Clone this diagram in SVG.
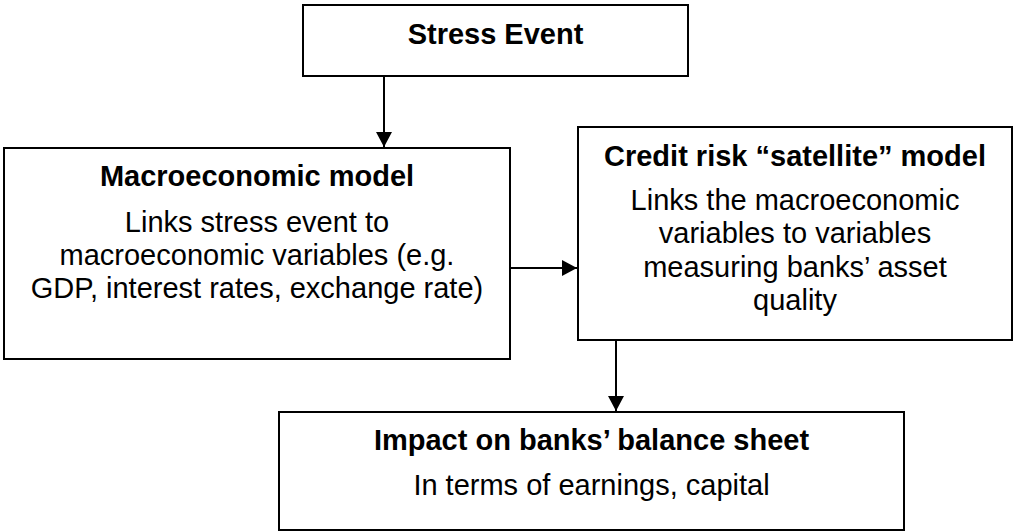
<svg xmlns="http://www.w3.org/2000/svg" width="1014" height="532" viewBox="0 0 1014 532">
<style>
.box{fill:#fff;stroke:#000;stroke-width:2}
.t{font-family:"Liberation Sans",Arial,sans-serif;font-size:29px;fill:#000;text-anchor:middle}
.b{font-weight:bold}
.c{stroke:#000;stroke-width:2;fill:none}
</style>
<defs>
<marker id="ah" markerUnits="userSpaceOnUse" markerWidth="16" markerHeight="16" refX="15" refY="8" orient="auto">
<path d="M0,0 L15,8 L0,16 Z" fill="#000"/>
</marker>
</defs>
<rect width="1014" height="532" fill="#fff"/>
<g id="connectors">
<line class="c" x1="384" y1="77" x2="384" y2="147" marker-end="url(#ah)"/>
<line class="c" x1="511" y1="268" x2="577" y2="268" marker-end="url(#ah)"/>
<line class="c" x1="616" y1="341" x2="616" y2="411" marker-end="url(#ah)"/>
</g>
<g id="stress">
<rect class="box" x="303" y="5" width="385" height="71"/>
<text class="t b" x="495.5" y="44">Stress Event</text>
</g>
<g id="macro">
<rect class="box" x="4" y="148" width="506" height="211"/>
<text class="t b" x="257" y="186">Macroeconomic model</text>
<text class="t" x="257" y="231.5">Links stress event to</text>
<text class="t" x="257" y="265">macroeconomic variables (e.g.</text>
<text class="t" x="257" y="298">GDP, interest rates, exchange rate)</text>
</g>
<g id="credit">
<rect class="box" x="578" y="127" width="434" height="213"/>
<text class="t b" x="795" y="166">Credit risk “satellite” model</text>
<text class="t" x="795" y="210">Links the macroeconomic</text>
<text class="t" x="795" y="243">variables to variables</text>
<text class="t" x="795" y="276.5">measuring banks’ asset</text>
<text class="t" x="795" y="309.5">quality</text>
</g>
<g id="impact">
<rect class="box" x="279" y="412" width="625" height="118"/>
<text class="t b" x="591.5" y="450">Impact on banks’ balance sheet</text>
<text class="t" x="591.5" y="495">In terms of earnings, capital</text>
</g>
</svg>
